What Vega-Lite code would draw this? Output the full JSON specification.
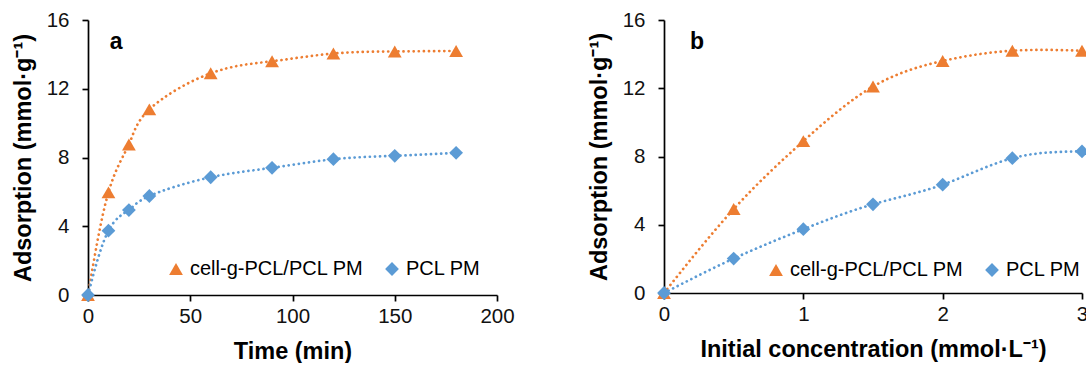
{
  "$schema": "https://vega.github.io/schema/vega-lite/v6.json",
  "padding": {"left": 11, "top": 10, "right": 0, "bottom": 0},
  "background": "white",
  "config": {
    "font": "Liberation Sans",
    "view": {"stroke": null},
    "axis": {
      "grid": false,
      "domainColor": "#000",
      "domainWidth": 1.7,
      "tickColor": "#000",
      "tickWidth": 1.7,
      "tickSize": 6,
      "labelFontSize": 20.5,
      "labelColor": "#111",
      "labelFont": "Liberation Sans",
      "labelFlush": false,
      "titleFont": "Liberation Sans",
      "titleFontSize": 23.5,
      "titleFontWeight": "bold",
      "titleColor": "#000"
    },
    "axisY": {"labelPadding": 13, "titlePadding": 11},
    "axisX": {"labelPadding": 5, "titlePadding": 13},
    "legend": {
      "labelFontSize": 20,
      "labelFont": "Liberation Sans",
      "labelColor": "#000",
      "symbolSize": 190,
      "columnPadding": 18,
      "labelOffset": 4,
      "labelLimit": 400
    }
  },
  "datasets": {
    "time": [
      {"t": 0, "q": 0, "series": "cell-g-PCL/PCL PM"},
      {"t": 10, "q": 5.97, "series": "cell-g-PCL/PCL PM"},
      {"t": 20, "q": 8.76, "series": "cell-g-PCL/PCL PM"},
      {"t": 30, "q": 10.8, "series": "cell-g-PCL/PCL PM"},
      {"t": 60, "q": 12.9, "series": "cell-g-PCL/PCL PM"},
      {"t": 90, "q": 13.6, "series": "cell-g-PCL/PCL PM"},
      {"t": 120, "q": 14.05, "series": "cell-g-PCL/PCL PM"},
      {"t": 150, "q": 14.17, "series": "cell-g-PCL/PCL PM"},
      {"t": 180, "q": 14.2, "series": "cell-g-PCL/PCL PM"},
      {"t": 0, "q": 0, "series": "PCL PM"},
      {"t": 10, "q": 3.74, "series": "PCL PM"},
      {"t": 20, "q": 4.94, "series": "PCL PM"},
      {"t": 30, "q": 5.76, "series": "PCL PM"},
      {"t": 60, "q": 6.85, "series": "PCL PM"},
      {"t": 90, "q": 7.4, "series": "PCL PM"},
      {"t": 120, "q": 7.9, "series": "PCL PM"},
      {"t": 150, "q": 8.1, "series": "PCL PM"},
      {"t": 180, "q": 8.27, "series": "PCL PM"}
    ],
    "conc": [
      {"c": 0, "q": 0, "series": "cell-g-PCL/PCL PM"},
      {"c": 0.5, "q": 4.92, "series": "cell-g-PCL/PCL PM"},
      {"c": 1, "q": 8.9, "series": "cell-g-PCL/PCL PM"},
      {"c": 1.5, "q": 12.1, "series": "cell-g-PCL/PCL PM"},
      {"c": 2, "q": 13.6, "series": "cell-g-PCL/PCL PM"},
      {"c": 2.5, "q": 14.2, "series": "cell-g-PCL/PCL PM"},
      {"c": 3, "q": 14.2, "series": "cell-g-PCL/PCL PM"},
      {"c": 0, "q": 0, "series": "PCL PM"},
      {"c": 0.5, "q": 2.02, "series": "PCL PM"},
      {"c": 1, "q": 3.74, "series": "PCL PM"},
      {"c": 1.5, "q": 5.2, "series": "PCL PM"},
      {"c": 2, "q": 6.35, "series": "PCL PM"},
      {"c": 2.5, "q": 7.9, "series": "PCL PM"},
      {"c": 3, "q": 8.3, "series": "PCL PM"}
    ]
  },
  "hconcat": [
    {
      "width": 409,
      "height": 275,
      "data": {"name": "time"},
      "layer": [
        {
          "mark": {"type": "line", "interpolate": "natural", "strokeWidth": 2.7, "strokeDash": [0.1, 5], "strokeCap": "round"},
          "encoding": {
            "x": {"field": "t", "type": "quantitative", "scale": {"domain": [0, 200], "nice": false}, "axis": {"title": "Time (min)", "values": [0, 50, 100, 150, 200]}},
            "y": {"field": "q", "type": "quantitative", "scale": {"domain": [0, 16], "nice": false}, "axis": {"title": "Adsorption (mmol·g⁻¹)", "values": [0, 4, 8, 12, 16]}},
            "detail": {"field": "series"},
            "stroke": {"field": "series", "type": "nominal", "scale": {"domain": ["cell-g-PCL/PCL PM", "PCL PM"], "range": ["#ED7D31", "#5B9BD5"]}, "legend": null}
          }
        },
        {
          "mark": {"type": "point", "filled": true, "opacity": 1, "size": 190},
          "encoding": {
            "x": {"field": "t", "type": "quantitative"},
            "y": {"field": "q", "type": "quantitative"},
            "fill": {"field": "series", "type": "nominal", "scale": {"domain": ["cell-g-PCL/PCL PM", "PCL PM"], "range": ["#ED7D31", "#5B9BD5"]}, "legend": {"title": null, "orient": "bottom-right", "direction": "horizontal", "offset": 16}},
            "shape": {"field": "series", "type": "nominal", "scale": {"domain": ["cell-g-PCL/PCL PM", "PCL PM"], "range": ["triangle-up", "diamond"]}, "legend": {"title": null, "orient": "bottom-right", "direction": "horizontal", "offset": 16}}
          }
        },
        {
          "data": {"values": [{}]},
          "mark": {"type": "text", "text": "a", "fontSize": 23, "fontWeight": "bold", "font": "Liberation Sans", "color": "#000"},
          "encoding": {"x": {"datum": 13.7}, "y": {"datum": 14.7}}
        }
      ]
    },
    {
      "width": 418,
      "height": 273,
      "data": {"name": "conc"},
      "layer": [
        {
          "mark": {"type": "line", "interpolate": "natural", "strokeWidth": 2.7, "strokeDash": [0.1, 5], "strokeCap": "round"},
          "encoding": {
            "x": {"field": "c", "type": "quantitative", "scale": {"domain": [0, 3], "nice": false}, "axis": {"title": "Initial concentration (mmol·L⁻¹)", "values": [0, 1, 2, 3], "format": "d"}},
            "y": {"field": "q", "type": "quantitative", "scale": {"domain": [0, 16], "nice": false}, "axis": {"title": "Adsorption (mmol·g⁻¹)", "values": [0, 4, 8, 12, 16]}},
            "detail": {"field": "series"},
            "stroke": {"field": "series", "type": "nominal", "scale": {"domain": ["cell-g-PCL/PCL PM", "PCL PM"], "range": ["#ED7D31", "#5B9BD5"]}, "legend": null}
          }
        },
        {
          "mark": {"type": "point", "filled": true, "opacity": 1, "size": 190},
          "encoding": {
            "x": {"field": "c", "type": "quantitative"},
            "y": {"field": "q", "type": "quantitative"},
            "fill": {"field": "series", "type": "nominal", "scale": {"domain": ["cell-g-PCL/PCL PM", "PCL PM"], "range": ["#ED7D31", "#5B9BD5"]}, "legend": {"title": null, "orient": "none", "direction": "horizontal", "legendX": 102, "legendY": 240}},
            "shape": {"field": "series", "type": "nominal", "scale": {"domain": ["cell-g-PCL/PCL PM", "PCL PM"], "range": ["triangle-up", "diamond"]}, "legend": {"title": null, "orient": "none", "direction": "horizontal", "legendX": 102, "legendY": 240}}
          }
        },
        {
          "data": {"values": [{}]},
          "mark": {"type": "text", "text": "b", "fontSize": 23, "fontWeight": "bold", "font": "Liberation Sans", "color": "#000"},
          "encoding": {"x": {"datum": 0.237}, "y": {"datum": 14.7}}
        }
      ]
    }
  ],
  "spacing": 72
}
